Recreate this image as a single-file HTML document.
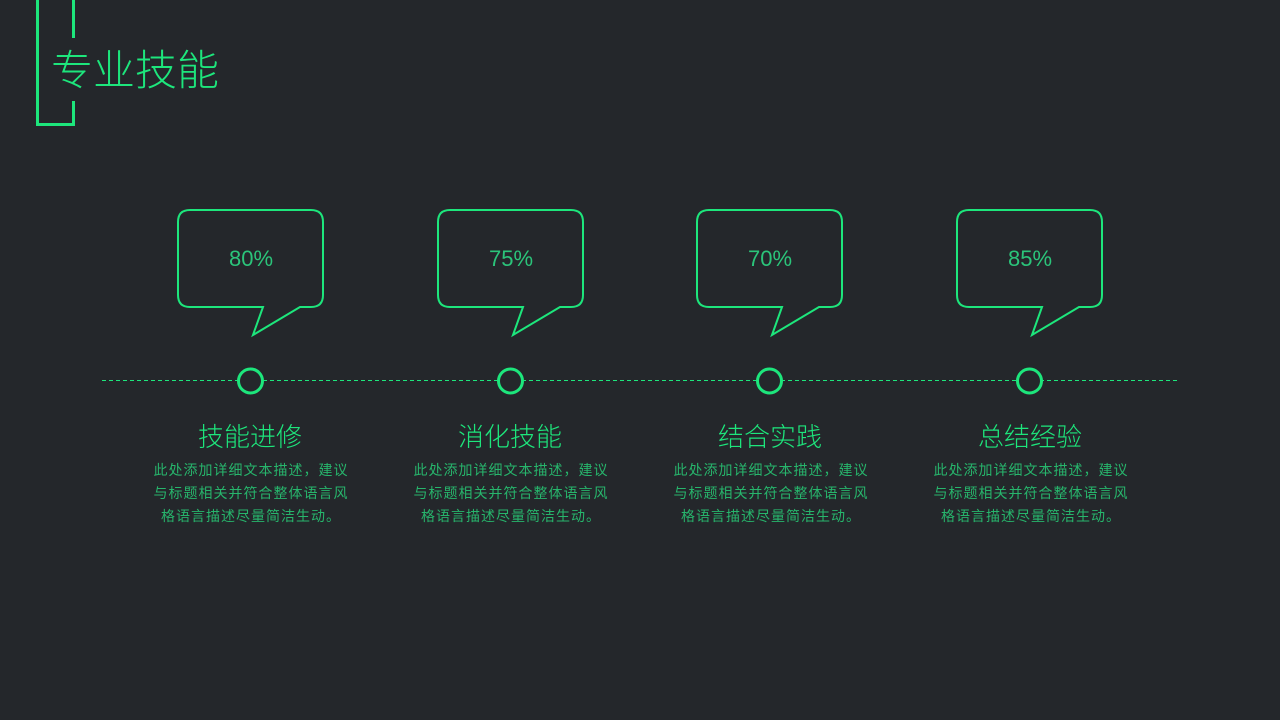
<!DOCTYPE html>
<html><head><meta charset="utf-8"><style>
body{margin:0;width:1280px;height:720px;background:#24272b;overflow:hidden;position:relative;font-family:"Liberation Sans","Noto Sans CJK SC",sans-serif}
.t{position:absolute;left:51px;top:45px;font-size:42px;color:#1de67c;font-weight:300;line-height:52px}
.h{position:absolute;width:260px;text-align:center;font-size:26px;color:#1de67c;top:419px;line-height:36px;font-weight:300}
.p{position:absolute;width:200px;text-align:center;font-size:14px;letter-spacing:1px;color:#27b56c;top:459px;line-height:23px}
.n{position:absolute;width:146px;text-align:center;font-size:22px;color:#2bc47a;top:244px;line-height:30px;font-weight:300}
</style></head><body>
<svg width="1280" height="720" style="position:absolute;left:0;top:0">
<g stroke="#1de67c" stroke-width="3" fill="none">
<polyline points="37.5,0 37.5,124.5 73.5,124.5 73.5,101"/>
<line x1="73.5" y1="0" x2="73.5" y2="38"/>
</g>
<line x1="102" y1="380.5" x2="1178" y2="380.5" stroke="#1de67c" stroke-width="1" stroke-dasharray="4,3"/>
<g id="b" stroke="#1de67c" stroke-width="2" fill="none">
<path d="M190,210 H311 Q323,210 323,222 V295 Q323,307 311,307 H300 L253,335 L263,307 H190 Q178,307 178,295 V222 Q178,210 190,210 Z"/>
<circle cx="250.5" cy="381" r="12" stroke-width="3" fill="#24272b"/>
</g>
<use href="#b" x="260"/><use href="#b" x="519"/><use href="#b" x="779"/>
</svg>
<div class="t">专业技能</div>
<div class="n" style="left:178px">80%</div>
<div class="n" style="left:438px">75%</div>
<div class="n" style="left:697px">70%</div>
<div class="n" style="left:957px">85%</div>
<div class="h" style="left:120px">技能进修</div>
<div class="h" style="left:380px">消化技能</div>
<div class="h" style="left:640px">结合实践</div>
<div class="h" style="left:900px">总结经验</div>
<div class="p" style="left:151px">此处添加详细文本描述，建议与标题相关并符合整体语言风格语言描述尽量简洁生动。</div>
<div class="p" style="left:411px">此处添加详细文本描述，建议与标题相关并符合整体语言风格语言描述尽量简洁生动。</div>
<div class="p" style="left:671px">此处添加详细文本描述，建议与标题相关并符合整体语言风格语言描述尽量简洁生动。</div>
<div class="p" style="left:931px">此处添加详细文本描述，建议与标题相关并符合整体语言风格语言描述尽量简洁生动。</div>
</body></html>
